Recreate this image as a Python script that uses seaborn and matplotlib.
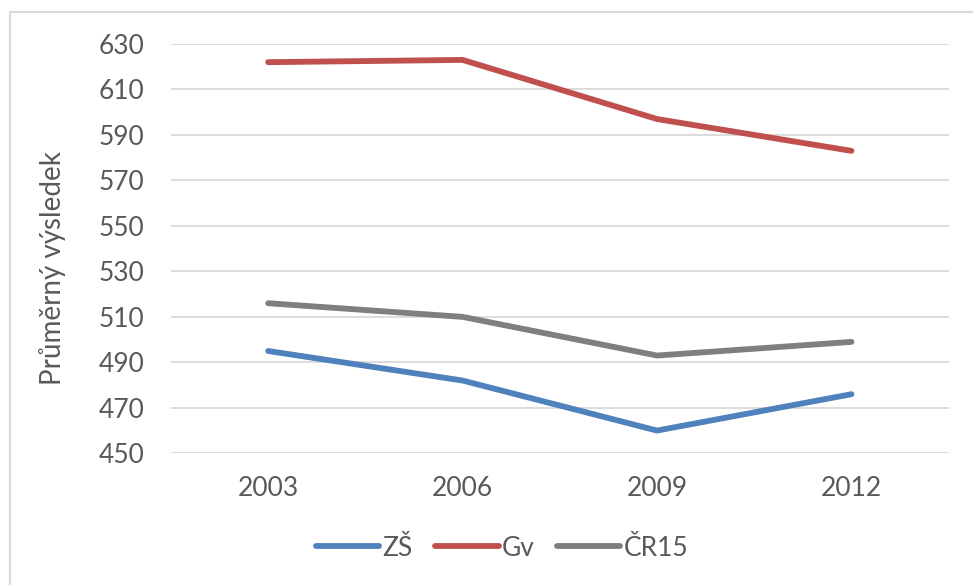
import pandas as pd
import matplotlib.pyplot as plt
import seaborn as sns
from matplotlib.patches import Rectangle

# Data
years = ['2003', '2006', '2009', '2012']
zs = [495, 482, 460, 476]
gv = [622, 623, 597, 583]
cr15 = [516, 510, 493, 499]
series_names = ['ZŠ', 'Gv', 'ČR15']
colors = ['#4F81BD', '#C0504D', '#7F7F7F']
y_ticks = list(range(450, 631, 20))

df = pd.DataFrame({
    'rok': years * 3,
    'vysledek': zs + gv + cr15,
    'skupina': [n for n in series_names for _ in years],
})

sns.set_style("white")
plt.rcParams['font.family'] = ['Lato', 'DejaVu Sans']
text_color = '#595959'
fs = 19
lw = 4.2

fig = plt.figure(figsize=(9.73, 5.85), dpi=100)
ax = fig.add_axes([0.1757, 0.2251, 0.7993, 0.6997])

sns.lineplot(data=df, x='rok', y='vysledek', hue='skupina',
             palette=dict(zip(series_names, colors)), linewidth=lw,
             solid_capstyle='round', legend=False, ax=ax)

ax.set_xlim(-0.5, 3.5)
ax.set_ylim(450, 630)
ax.set_yticks(y_ticks)
ax.yaxis.grid(True, color='#D9D9D9', linewidth=1.3)
ax.set_axisbelow(True)
for s in ax.spines.values():
    s.set_visible(False)
ax.tick_params(axis='both', length=0, labelsize=fs, colors=text_color)
ax.tick_params(axis='x', pad=16)
ax.tick_params(axis='y', pad=19)
ax.set_xlabel('')
ax.set_ylabel('Průměrný výsledek', fontsize=fs + 1, color=text_color)
ax.yaxis.set_label_coords(-0.135, 0.453)

# legend
handles = [plt.Line2D([], [], color=c, linewidth=lw, solid_capstyle='round') for c in colors]
leg = fig.legend(handles, series_names, loc='center', bbox_to_anchor=(0.516, 0.063),
                 ncol=3, frameon=False, fontsize=fs, handlelength=2.4,
                 handletextpad=0.12, columnspacing=0.85)
for t in leg.get_texts():
    t.set_color(text_color)

# chart outer border
fig.patches.append(Rectangle((10 / 973, -0.1), 1.2, 1 - 12 / 585 + 0.1,
                             transform=fig.transFigure, fill=False,
                             edgecolor='#D9D9D9', linewidth=1.5))

fig.savefig('out.png', dpi=100)
